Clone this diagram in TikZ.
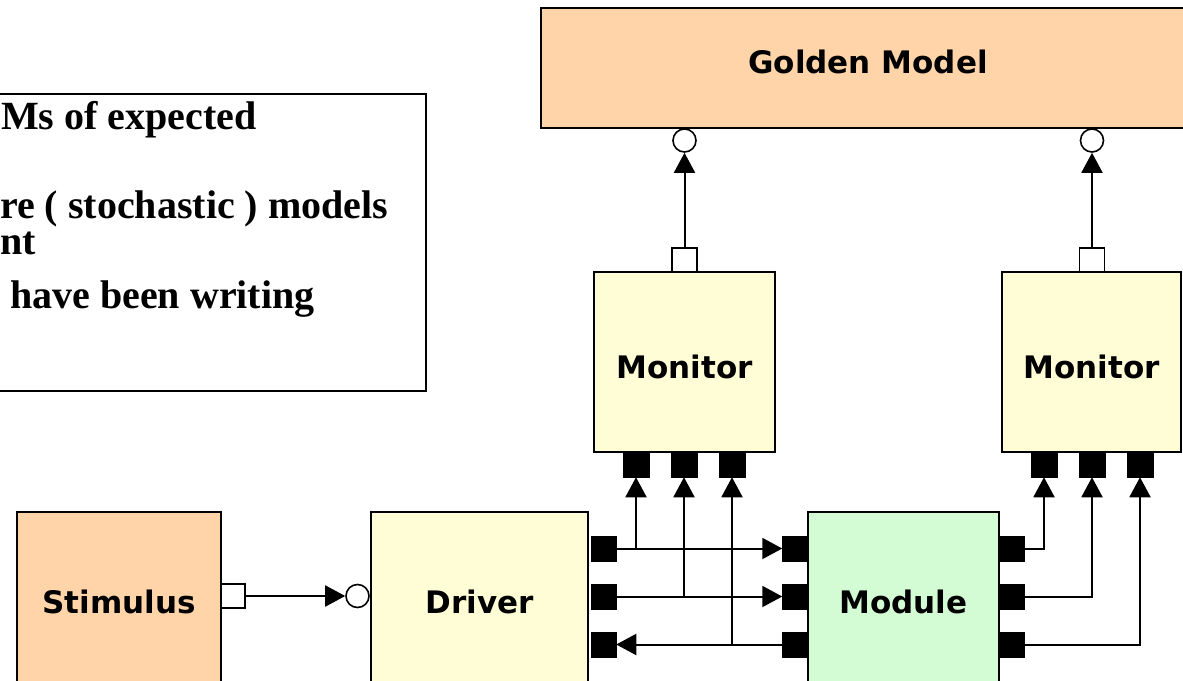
\documentclass[tikz,border=0pt]{standalone}
\usepackage{fontspec}
\setmainfont{Liberation Serif}
\newfontfamily\vsans{DejaVu Sans}
\usetikzlibrary{arrows.meta}
\definecolor{peach}{HTML}{FFD4A8}
\definecolor{paleyellow}{HTML}{FFFDD5}
\definecolor{palegreen}{HTML}{D4FCD4}
\begin{document}
\begin{tikzpicture}[x=1pt,y=-1pt,
  blk/.style={draw=black, line width=1.8pt, inner sep=0pt, font=\vsans\fontsize{31}{37}\selectfont\bfseries},
  port/.style={fill=black, draw=black, line width=0.5pt, minimum width=25pt, minimum height=25pt, inner sep=0pt},
  wport/.style={fill=white, draw=black, line width=1.6pt, minimum width=24pt, minimum height=24pt, inner sep=0pt},
  cport/.style={circle, fill=white, draw=black, line width=1.6pt, minimum size=23pt, inner sep=0pt},
  conn/.style={line width=2pt},
  arr/.style={conn, -{Triangle[length=20pt,width=21pt]}},
  note/.style={font=\fontsize{40}{44}\selectfont\bfseries, anchor=base west, inner sep=0pt}]
\useasboundingbox (0,0) rectangle (1183,680);
\fill[white] (0,0) rectangle (1183,680);

% text box
\draw[line width=2pt, fill=white] (-10,94) rectangle (426,391);
\node[note] (t1) at (1,129) {Ms of expected};
\node[note] (t2) at (0,218) {re ( stochastic ) models};
\node[note] (t3) at (0,254) {nt};
\node[note] (t4) at (10,308) {have been writing};

% main blocks
\node[blk, fill=peach, minimum width=654pt, minimum height=120pt, text depth=12pt] (gm) at (868,68) {Golden Model};
\node[blk, fill=paleyellow, minimum width=181pt, minimum height=180pt, text height=33pt] (mon1) at (684.5,362) {Monitor};
\node[blk, fill=paleyellow, minimum width=179pt, minimum height=180pt, text height=33pt] (mon2) at (1091.5,362) {Monitor};
\node[blk, fill=peach, minimum width=204pt, minimum height=180pt] (stim) at (119,602) {Stimulus};
\node[blk, fill=paleyellow, minimum width=217pt, minimum height=180pt] (drv) at (479.5,602) {Driver};
\node[blk, fill=palegreen, minimum width=191pt, minimum height=180pt] (mod) at (903.5,602) {Module};

% ports
\node[wport] (sp) at (233,596) {};
\node[cport] (dc) at (357.5,596) {};
\node[wport, minimum width=25pt] (m1t) at (684.5,260) {};
\node[cport] (m1g) at (684.5,140.5) {};
\node[wport, minimum width=25pt] (m2t) at (1092,260) {};
\node[cport] (m2g) at (1092,140.5) {};

\node[port, minimum width=26pt] (m1a) at (636,464.5) {};
\node[port, minimum width=26pt] (m1b) at (684,464.5) {};
\node[port, minimum width=26pt] (m1c) at (732,464.5) {};
\node[port, minimum width=26pt] (m2a) at (1044,464.5) {};
\node[port, minimum width=26pt] (m2b) at (1092,464.5) {};
\node[port, minimum width=26pt] (m2c) at (1140,464.5) {};

\node[port] (d1) at (603.5,548.5) {};
\node[port] (d2) at (603.5,596.5) {};
\node[port] (d3) at (603.5,644.5) {};
\node[port] (ml1) at (795,548.5) {};
\node[port] (ml2) at (795,596.5) {};
\node[port] (ml3) at (795,644.5) {};
\node[port] (mr1) at (1011.5,548.5) {};
\node[port] (mr2) at (1011.5,596.5) {};
\node[port] (mr3) at (1011.5,644.5) {};

% connectors
\draw[arr] (sp.east) -- (dc.west);
\draw[arr] (m1t.north) -- (m1g.south);
\draw[arr] (m2t.north) -- (m2g.south);

\draw[arr] (d1.east) -- (ml1.west);
\draw[arr] (d2.east) -- (ml2.west);
\draw[arr] (ml3.west) -- (d3.east);
\draw[arr] (m1a.south |- d1.east) -- (m1a.south);
\draw[arr] (m1b.south |- d2.east) -- (m1b.south);
\draw[arr] (m1c.south |- ml3.west) -- (m1c.south);

\draw[arr] (mr1.east) -| (m2a.south);
\draw[arr] (mr2.east) -| (m2b.south);
\draw[arr] (mr3.east) -| (m2c.south);
\end{tikzpicture}
\end{document}
